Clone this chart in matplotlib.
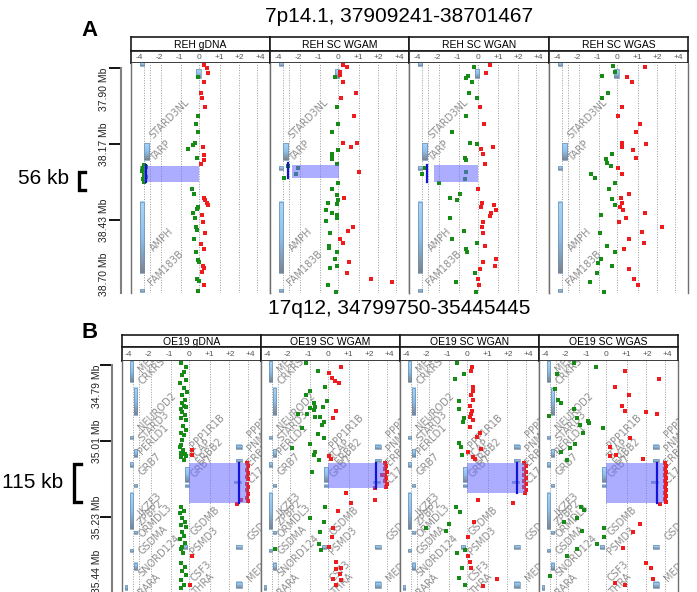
import numpy as np
import matplotlib
matplotlib.use("Agg")
import matplotlib.pyplot as plt
from matplotlib.colors import LinearSegmentedColormap
from matplotlib.lines import Line2D
from matplotlib.patches import Rectangle

plt.rcParams["font.family"] = ["Liberation Sans", "DejaVu Sans"]

# ---------------- data ----------------
TITLE_A = "7p14.1, 37909241-38701467"
TITLE_B = "17q12, 34799750-35445445"
PANELS_A = ["REH gDNA", "REH SC WGAM", "REH SC WGAN", "REH SC WGAS"]
PANELS_B = ["OE19 gDNA", "OE19 SC WGAM", "OE19 SC WGAN", "OE19 SC WGAS"]
RATIO_TICKS = [-3, -2, -1, 0, 1, 2, 3]
RATIO_LABELS = ["-4", "-2", "-1", "0", "+1", "+2", "+4"]
GRID_X = [-2.77, -2.48, -1.9, -0.92, 0.0, 1.0, 1.95, 2.87]

A_TICKS = [37.90, 38.166, 38.432, 38.698]
A_TICK_LABELS = ["37.90 Mb", "38.17 Mb", "38.43 Mb", "38.70 Mb"]
B_TICKS = [34.80, 35.015, 35.23, 35.445]
B_TICK_LABELS = ["34.79 Mb", "35.01 Mb", "35.23 Mb", "35.44 Mb"]

# (x_left, x_right, start Mb, end Mb)
A_TRACKS = [(-2.97, -2.77, 37.880, 37.893), (-0.15, 0.05, 37.904, 37.935),
            (-2.77, -2.52, 38.163, 38.222), (-2.97, -2.77, 38.243, 38.257),
            (-2.97, -2.77, 38.369, 38.618), (-2.97, -2.77, 38.674, 38.684)]
B_TRACKS = [(-2.93, -2.78, 34.788, 34.848), (-2.73, -2.58, 34.865, 34.942),
            (-2.93, -2.78, 35.001, 35.009), (-2.73, -2.58, 35.038, 35.060),
            (-2.93, -2.78, 35.075, 35.089), (-2.73, -2.58, 35.137, 35.145),
            (-2.93, -2.78, 35.162, 35.264), (-2.73, -2.58, 35.270, 35.278),
            (-2.93, -2.78, 35.321, 35.329), (-2.73, -2.58, 35.360, 35.380),
            (-3.15, -3.05, 35.423, 35.437), (-0.21, -0.01, 35.088, 35.130),
            (-0.21, -0.01, 35.139, 35.145), (-0.30, -0.10, 35.309, 35.320),
            (2.30, 2.55, 35.026, 35.038), (2.30, 2.55, 35.066, 35.074),
            (2.20, 2.50, 35.129, 35.133), (2.30, 2.55, 35.309, 35.320),
            (2.30, 2.55, 35.414, 35.431)]

A_GENE_NAMES = ["STARD3NL", "TARP", "AMPH", "FAM183B"]
A_GENE_X = [-2.2, -2.2, -2.2, -2.3]
A_GENE_Y = [38.152, 38.233, 38.548, 38.667]

B_GENE_NAMES = ["MED1", "CRKRS", "NEUROD2", "STARD3", "PERLD1", "GRB7", "IKZF3",
                "ZPBP2", "ORMDL3", "GSDMA", "SNORD124", "RARA",
                "PPP1R1B", "TCAP", "ERBB2", "GRB7", "GSDMB", "PSMD3", "CSF3", "THRA",
                "PPP1R1B", "PNMT", "ERBB2", "C17orf37", "GSDML", "MED24"]
B_GENE_X = [-2.25] * 12 + [0.3, 0.3, 0.6, 0.3, 0.3, 0.3, 0.3, 0.4] + [3.1] * 6
B_GENE_Y = [34.828, 34.862, 34.992, 35.021, 35.058, 35.117, 35.230, 35.261, 35.295,
            35.343, 35.403, 35.457,
            35.041, 35.075, 35.086, 35.125, 35.287, 35.343, 35.417, 35.457,
            35.012, 35.049, 35.089, 35.140, 35.301, 35.417]

# segment box (x0, x1, y0, y1) and segment line (x, y0, y1)
A_SEG = [(-2.77, 0.0, 38.242, 38.300), (-2.33, 0.05, 38.240, 38.286),
         (-2.18, 0.0, 38.240, 38.298), None]
A_SEG_LINE = [(-2.65, 38.240, 38.300), (-2.50, 38.233, 38.286),
              (-2.52, 38.240, 38.298), None]
B_SEG = [(0.0, 2.80, 35.077, 35.190), (0.0, 2.75, 35.077, 35.148),
         (0.0, 2.80, 35.077, 35.162), (0.0, 2.80, 35.077, 35.190)]
B_SEG_LINE = [(2.40, 35.077, 35.190), (2.35, 35.077, 35.148),
              (2.40, 35.077, 35.162), (2.45, 35.077, 35.190)]

# probe points (ratio axis position, Mb)
reh_gdna_red = [(0.20, 37.890), (0.35, 37.900), (0.40, 37.918), (0.20, 37.949), (0.05, 37.988),
                (0.10, 38.005), (0.25, 38.037), (0.15, 38.177), (0.20, 38.204), (0.20, 38.222),
                (0.05, 38.236), (0.20, 38.355), (0.25, 38.362), (0.35, 38.373), (0.40, 38.380),
                (0.10, 38.415), (0.15, 38.439), (0.25, 38.478), (0.05, 38.516), (0.20, 38.534),
                (0.15, 38.593), (0.20, 38.600), (0.10, 38.614), (0.20, 38.660)]
reh_gdna_green = [(-0.05, 37.932), (-0.05, 38.068), (-0.15, 38.096), (-0.05, 38.124),
                  (-0.20, 38.163), (-0.30, 38.170), (-0.55, 38.184), (-0.10, 38.215),
                  (-2.75, 38.240), (-2.65, 38.245), (-2.80, 38.250), (-2.70, 38.256),
                  (-2.85, 38.262), (-2.70, 38.268), (-2.75, 38.274), (-2.65, 38.280),
                  (-2.80, 38.287), (-2.70, 38.294), (-2.75, 38.300),
                  (-0.35, 38.324), (-0.25, 38.341), (-0.05, 38.387), (-0.10, 38.394),
                  (-0.30, 38.408), (-0.20, 38.425), (-0.15, 38.457), (-0.10, 38.467),
                  (-0.25, 38.499), (-0.15, 38.544), (-0.05, 38.572), (-0.02, 38.579),
                  (-0.10, 38.639), (-0.02, 38.646), (-0.05, 38.681)]

reh_wgam_red = [(0.20, 37.890), (0.40, 37.897), (0.05, 37.914), (0.05, 37.925), (0.20, 37.949),
                (0.85, 37.988), (0.10, 38.005), (0.75, 38.068), (0.20, 38.163), (0.60, 38.177),
                (0.90, 38.163), (1.00, 38.264), (0.25, 38.355), (0.70, 38.457), (0.45, 38.471),
                (0.05, 38.499), (0.20, 38.513), (0.50, 38.579), (0.40, 38.618), (1.60, 38.639),
                (2.65, 38.649)]
reh_wgam_green = [(-0.15, 37.932), (-0.05, 38.037), (-0.03, 38.096), (-0.30, 38.124),
                  (-0.03, 38.187), (-0.30, 38.201), (-0.30, 38.212), (-0.30, 38.219),
                  (-0.05, 38.236), (-2.50, 38.243), (-2.00, 38.250), (-2.10, 38.271),
                  (-2.70, 38.285), (-0.03, 38.303), (-0.30, 38.324), (-0.05, 38.345),
                  (-0.03, 38.362), (-0.05, 38.376), (-0.50, 38.373), (-0.60, 38.397),
                  (-0.30, 38.408), (-0.05, 38.415), (-0.05, 38.425), (-0.60, 38.436),
                  (-0.40, 38.478), (-0.45, 38.523), (-0.45, 38.530), (-0.05, 38.544),
                  (-0.15, 38.569), (-0.05, 38.593), (-0.40, 38.600), (-0.50, 38.660),
                  (-0.10, 38.684)]

reh_wgan_red = [(0.60, 37.890), (0.40, 37.918), (0.10, 38.037), (0.30, 38.096), (0.75, 38.177),
                (0.15, 38.184), (0.25, 38.201), (0.35, 38.236), (0.02, 38.324), (0.20, 38.373),
                (0.15, 38.387), (0.80, 38.380), (0.90, 38.397), (0.65, 38.408), (0.60, 38.418),
                (0.25, 38.439), (0.20, 38.457), (0.25, 38.478), (0.35, 38.523), (0.90, 38.569),
                (0.85, 38.593), (0.25, 38.579), (0.10, 38.604), (0.02, 38.639), (0.05, 38.660)]
reh_wgan_green = [(-0.20, 37.897), (-0.50, 37.928), (-0.60, 37.935), (-0.30, 37.949),
                  (-0.45, 37.988), (-0.05, 38.005), (-0.60, 38.068), (-1.30, 38.124),
                  (-0.40, 38.163), (-0.05, 38.166), (-0.65, 38.215), (-0.60, 38.222),
                  (-2.60, 38.250), (-2.75, 38.271), (-0.60, 38.264), (-0.65, 38.289),
                  (-1.90, 38.303), (-0.90, 38.341), (-1.40, 38.355), (-1.05, 38.362),
                  (-1.40, 38.425), (-0.70, 38.471), (-1.30, 38.499), (-0.05, 38.513),
                  (-0.60, 38.534), (-0.55, 38.544), (-0.15, 38.618), (-1.10, 38.649),
                  (-0.10, 38.684)]

reh_wgas_red = [(1.35, 37.897), (0.45, 37.932), (0.70, 37.949), (0.20, 38.037), (0.02, 38.068),
                (1.10, 38.096), (0.90, 38.124), (0.20, 38.163), (0.20, 38.177), (1.40, 38.166),
                (0.75, 38.187), (0.90, 38.215), (0.02, 38.250), (0.20, 38.271), (0.55, 38.341),
                (0.15, 38.355), (0.20, 38.373), (0.10, 38.387), (0.25, 38.397), (0.40, 38.425),
                (1.35, 38.408), (0.05, 38.439), (2.20, 38.457), (1.20, 38.474), (0.55, 38.499),
                (1.30, 38.513), (0.30, 38.534), (0.55, 38.604), (0.80, 38.639), (1.00, 38.660)]
reh_wgas_green = [(-0.20, 37.893), (-0.10, 37.914), (-0.75, 37.928), (-0.45, 37.988),
                  (-0.75, 38.005), (-0.25, 38.201), (-0.55, 38.219), (-0.50, 38.233),
                  (-0.30, 38.243), (-1.30, 38.271), (-1.10, 38.285), (-0.10, 38.303),
                  (-0.40, 38.324), (-0.25, 38.359), (-0.10, 38.380), (-0.80, 38.415),
                  (-0.85, 38.478), (-0.50, 38.523), (-0.10, 38.544), (-0.80, 38.569),
                  (-0.95, 38.583), (-0.25, 38.593), (-1.00, 38.618), (-1.35, 38.649),
                  (-0.65, 38.684)]

oe19_gdna_red = [(0.10, 35.041), (0.10, 35.055), (0.10, 35.341), (0.02, 35.423),
                 (2.80, 35.077), (2.85, 35.085), (2.80, 35.097), (2.85, 35.105),
                 (2.80, 35.116), (2.85, 35.124), (2.80, 35.136), (2.85, 35.144),
                 (2.80, 35.155), (2.85, 35.164), (2.80, 35.175), (2.85, 35.186),
                 (2.50, 35.182), (2.35, 35.193)]
oe19_gdna_green = [(-0.40, 34.794), (-0.15, 34.806), (-0.25, 34.820), (-0.35, 34.828),
                   (-0.15, 34.842), (-0.45, 34.851), (-0.25, 34.865), (-0.10, 34.876),
                   (-0.35, 34.885), (-0.20, 34.899), (-0.35, 34.908), (-0.25, 34.916),
                   (-0.40, 34.925), (-0.15, 34.919), (-0.35, 34.933), (-0.20, 34.942),
                   (-0.40, 34.950), (-0.15, 34.956), (-0.30, 34.973), (-0.15, 34.984),
                   (-0.40, 34.992), (-0.25, 34.998), (-0.35, 35.012), (-0.40, 35.026),
                   (-0.45, 35.032), (-0.30, 35.041), (-0.40, 35.049), (-0.20, 35.052),
                   (-0.15, 35.058), (-0.40, 35.060), (-0.25, 35.069),
                   (-0.40, 35.202), (-0.25, 35.213), (-0.45, 35.219), (-0.35, 35.233),
                   (-0.20, 35.244), (-0.40, 35.253), (-0.15, 35.258), (-0.35, 35.273),
                   (-0.25, 35.284), (-0.45, 35.292), (-0.20, 35.304), (-0.35, 35.315),
                   (-0.40, 35.321), (-0.30, 35.332), (-0.40, 35.360), (-0.20, 35.372),
                   (-0.35, 35.383), (-0.15, 35.394), (-0.40, 35.408), (-0.25, 35.423),
                   (-0.40, 35.431)]

oe19_wgam_red = [(0.60, 34.806), (0.05, 34.823), (0.15, 34.837), (0.30, 34.845), (0.50, 34.851),
                 (0.35, 34.930), (0.20, 34.950), (0.05, 35.058), (0.10, 35.066),
                 (2.75, 35.077), (2.80, 35.085), (2.75, 35.094), (2.85, 35.102), (2.75, 35.111),
                 (2.80, 35.119), (2.75, 35.128), (2.85, 35.136), (2.80, 35.145), (2.60, 35.111),
                 (2.30, 35.148), (2.30, 35.182), (0.85, 35.162), (1.10, 35.191), (0.45, 35.213),
                 (0.20, 35.261), (0.15, 35.287), (0.02, 35.315), (0.35, 35.358), (0.60, 35.374),
                 (0.35, 35.377), (0.55, 35.391), (0.20, 35.406), (0.60, 35.408), (0.35, 35.423)]
oe19_wgam_green = [(-1.10, 34.794), (-0.50, 34.817), (-0.15, 34.862), (-0.90, 34.874),
                   (-1.10, 34.885), (-0.70, 34.908), (-0.65, 34.919), (-0.70, 34.927),
                   (-0.05, 34.902), (-0.25, 34.919), (-0.90, 34.922), (-1.50, 34.939),
                   (-1.05, 34.939), (-0.40, 34.947), (-0.65, 34.947), (-0.20, 34.961),
                   (-0.30, 34.970), (-1.30, 34.978), (-0.50, 34.995), (-0.20, 35.007),
                   (-0.90, 35.024), (-1.80, 35.035), (-0.65, 35.046), (-0.70, 35.055),
                   (-0.45, 35.069), (-0.80, 35.103), (-0.15, 35.202), (-0.90, 35.233),
                   (-0.20, 35.244), (-0.40, 35.273), (-0.45, 35.307), (-0.35, 35.324),
                   (-2.60, 35.321)]

oe19_wgan_red = [(0.20, 34.806), (0.15, 34.817), (0.25, 34.862), (0.25, 34.874), (0.15, 34.885),
                 (0.25, 34.899), (0.10, 34.916), (0.20, 34.930), (0.15, 34.939), (0.10, 34.947),
                 (0.25, 34.956), (0.10, 34.975), (0.60, 34.992), (0.45, 35.004), (0.65, 35.038),
                 (0.02, 35.046), (0.25, 35.060), (0.35, 35.066),
                 (2.75, 35.077), (2.85, 35.085), (2.75, 35.094), (2.85, 35.102), (2.75, 35.111),
                 (2.85, 35.119), (2.75, 35.128), (2.85, 35.136), (2.75, 35.145), (2.85, 35.153),
                 (2.80, 35.162), (2.25, 35.191), (0.50, 35.182), (0.30, 35.244), (0.02, 35.287),
                 (0.05, 35.340), (0.10, 35.358), (0.15, 35.374), (1.45, 35.406), (0.75, 35.425)]
oe19_wgan_green = [(-0.50, 34.794), (-0.15, 34.825), (-0.60, 34.840), (-0.40, 34.902),
                   (-0.40, 34.925), (-0.15, 34.950), (-0.20, 34.961), (-0.40, 35.021),
                   (-0.30, 35.032), (-0.25, 35.055), (-0.55, 35.202), (-0.35, 35.216),
                   (-0.90, 35.250), (-2.05, 35.261), (-1.05, 35.270), (-0.10, 35.324),
                   (-0.50, 35.332), (-0.25, 35.374), (-0.40, 35.403), (-0.10, 35.423)]

oe19_wgas_red = [(0.90, 34.817), (2.55, 34.840), (0.40, 34.862), (1.10, 34.885), (0.75, 34.916),
                 (0.90, 34.930), (1.95, 34.933), (2.45, 34.939), (1.15, 35.007), (0.15, 35.032),
                 (0.15, 35.058), (0.45, 35.055), (1.80, 35.066),
                 (2.85, 35.077), (2.90, 35.086), (2.85, 35.094), (2.90, 35.103), (2.85, 35.111),
                 (2.90, 35.120), (2.85, 35.128), (2.90, 35.137), (2.85, 35.145), (2.90, 35.154),
                 (2.85, 35.162), (2.90, 35.171), (2.85, 35.179), (2.90, 35.188),
                 (2.60, 35.193), (1.65, 35.250), (1.30, 35.273), (0.80, 35.318), (1.95, 35.360),
                 (2.20, 35.374), (2.30, 35.406), (0.40, 35.417), (0.90, 35.423)]
oe19_wgas_green = [(-1.60, 34.794), (-0.50, 34.806), (-2.40, 34.825), (-2.50, 34.868),
                   (-2.35, 34.899), (-2.20, 34.908), (-1.60, 34.925), (-2.80, 34.944),
                   (-1.45, 34.950), (-0.90, 34.958), (-0.85, 34.964), (-1.30, 34.970),
                   (-0.15, 34.978), (-1.15, 34.992), (-1.55, 35.024), (-1.80, 35.035),
                   (-2.20, 35.046), (-1.95, 35.069), (-1.25, 35.202), (-1.10, 35.210),
                   (-1.45, 35.233), (-2.10, 35.244), (-0.10, 35.261), (-1.20, 35.270),
                   (-0.10, 35.287), (-0.45, 35.307), (-1.45, 35.321), (-1.95, 35.340),
                   (-2.75, 35.397)]

A_RED = [reh_gdna_red, reh_wgam_red, reh_wgan_red, reh_wgas_red]
A_GREEN = [reh_gdna_green, reh_wgam_green, reh_wgan_green, reh_wgas_green]
B_RED = [oe19_gdna_red, oe19_wgam_red, oe19_wgan_red, oe19_wgas_red]
B_GREEN = [oe19_gdna_green, oe19_wgam_green, oe19_wgan_green, oe19_wgas_green]

# ---------------- layout / style ----------------
W, H = 697, 592
RED = "#ee1c1c"
GREEN = "#168c16"
TRACK_CMAP = LinearSegmentedColormap.from_list("track", ["#a9d6f7", "#8fc0ea", "#7c838c"])
GRAD = np.linspace(0, 1, 64).reshape(-1, 1)


def fig_rect(x0, y0, x1, y1):
    return [x0 / W, 1 - y1 / H, (x1 - x0) / W, (y1 - y0) / H]


def draw_header(fig, x0, x1, top, mid, bottom, name, xlim):
    nax = fig.add_axes(fig_rect(x0, top, x1, mid))
    nax.set_xticks([])
    nax.set_yticks([])
    nax.text(0.5, 0.45, name, ha="center", va="center", fontsize=7.5)
    tax = fig.add_axes(fig_rect(x0, mid, x1, bottom))
    tax.set_xlim(*xlim)
    tax.set_ylim(0, 1)
    tax.set_xticks([])
    tax.set_yticks([])
    for pos, lab in zip(RATIO_TICKS, RATIO_LABELS):
        tax.text(pos, 0.45, lab, ha="center", va="center", fontsize=6, color="#555555")
    for a in (nax, tax):
        for sp in a.spines.values():
            sp.set_linewidth(1.2)
            sp.set_color("#1a1a1a")


def draw_panel(ax, red, green, tracks, genes, seg, seg_line, xlim, ylim):
    for gx in GRID_X:
        ax.axvline(gx, color="#9a9a9a", lw=0.7, ls=(0, (1, 1.6)), zorder=0.5)
    for x0, x1, s, e in tracks:
        ax.imshow(GRAD, cmap=TRACK_CMAP, extent=(x0, x1, e, s), origin="upper",
                  aspect="auto", interpolation="bilinear", zorder=1)
        ax.add_patch(Rectangle((x0, s), x1 - x0, e - s, fill=False, ec="#6d8fb0",
                               lw=0.5, zorder=1.1))
    for name, gx, gy in genes:
        ax.text(gx, gy, name, rotation=45, rotation_mode="anchor", ha="left", va="bottom",
                fontsize=7, color="#8e8e8e", family="DejaVu Sans", clip_on=True, zorder=1.5)
    r = np.array(red)
    g = np.array(green)
    ax.scatter(g[:, 0], g[:, 1], marker="s", s=12, c=GREEN, lw=0, zorder=2)
    ax.scatter(r[:, 0], r[:, 1], marker="s", s=12, c=RED, lw=0, zorder=2)
    if seg is not None:
        x0, x1, y0, y1 = seg
        ax.add_patch(Rectangle((x0, y0), x1 - x0, y1 - y0, fc=(0.42, 0.42, 1.0),
                               alpha=0.55, lw=0, zorder=3))
    if seg_line is not None:
        ax.plot([seg_line[0], seg_line[0]], [seg_line[1], seg_line[2]],
                color="#1414d8", lw=1.6, zorder=4)
    ax.set_xlim(*xlim)
    ax.set_ylim(*ylim)
    ax.set_xticks([])
    ax.set_yticks([])
    ax.spines["top"].set_visible(False)
    ax.spines["bottom"].set_visible(False)
    for side in ("left", "right"):
        ax.spines[side].set_color("#6f6f6f")
        ax.spines[side].set_linewidth(1.0)


def draw_yaxis(fig, rect, ylim, ticks, labels, label_x):
    yax = fig.add_axes(rect, zorder=-1)
    yax.set_ylim(*ylim)
    yax.patch.set_visible(False)
    for side in ("top", "right", "bottom"):
        yax.spines[side].set_visible(False)
    left = yax.spines["left"]
    left.set_position(("outward", 7.2))
    left.set_color("#808080")
    left.set_linewidth(1.5)
    left.set_bounds(ticks[0], ylim[0])
    yax.set_xticks([])
    yax.set_yticks([t for t in ticks if ylim[1] <= t <= ylim[0]])
    yax.set_yticklabels([])
    yax.tick_params(axis="y", length=8.5, width=1.3, color="black", direction="out")
    for i, (t, lab) in enumerate(zip(ticks, labels)):
        va = "top" if i == 0 else ("bottom" if i == len(ticks) - 1 else "center")
        yax.text(label_x, t, lab, transform=yax.get_yaxis_transform(), rotation=90,
                 ha="center", va=va, fontsize=7.5, color="#222222", clip_on=False)


def draw_section(fig, edges, top, mid, bottom, plot_bottom, names, reds, greens, tracks,
                 genes, segs, seg_lines, xlim, ylim, ticks, tick_labels, label_x):
    for i in range(4):
        x0, x1 = edges[i], edges[i + 1]
        draw_header(fig, x0, x1, top, mid, bottom, names[i], xlim)
        ax = fig.add_axes(fig_rect(x0, bottom, x1, plot_bottom))
        draw_panel(ax, reds[i], greens[i], tracks, genes, segs[i], seg_lines[i], xlim, ylim)
    draw_yaxis(fig, fig_rect(edges[0], bottom, edges[1], plot_bottom), ylim, ticks,
               tick_labels, label_x)


def bracket(fig, x, y0, y1, arm):
    fig.add_artist(Line2D([(x + arm) / W, x / W, x / W, (x + arm) / W],
                          [1 - y0 / H, 1 - y0 / H, 1 - y1 / H, 1 - y1 / H],
                          color="black", lw=2.4, solid_joinstyle="miter"))


fig = plt.figure(figsize=(W / 100, H / 100), dpi=100)

# ---- section A ----
fig.text(399 / W, 1 - 16 / H, TITLE_A, ha="center", va="center", fontsize=15)
fig.text(89 / W, 1 - 31 / H, "A", ha="center", va="center", fontsize=16, fontweight="bold")
fig.text(43 / W, 1 - 179 / H, "56 kb", ha="center", va="center", fontsize=15)
bracket(fig, 79, 172, 190, 6)
genes_a = list(zip(A_GENE_NAMES, A_GENE_X, A_GENE_Y))
draw_section(fig, [131, 270, 409, 549, 688], 37, 51, 63, 293, PANELS_A, A_RED, A_GREEN,
             A_TRACKS, genes_a, A_SEG, A_SEG_LINE, (-3.4, 3.5), (38.6875, 37.8825),
             A_TICKS, A_TICK_LABELS, -0.194)

# ---- section B ----
fig.text(399 / W, 1 - 309 / H, TITLE_B, ha="center", va="center", fontsize=15)
fig.text(90 / W, 1 - 332 / H, "B", ha="center", va="center", fontsize=16, fontweight="bold")
fig.text(33 / W, 1 - 483 / H, "115 kb", ha="center", va="center", fontsize=15)
bracket(fig, 74, 464, 502, 7)
genes_b = list(zip(B_GENE_NAMES, B_GENE_X, B_GENE_Y))
draw_section(fig, [122, 261, 400, 539, 678], 335, 347, 361, 592, PANELS_B, B_RED, B_GREEN,
             B_TRACKS, genes_b, B_SEG, B_SEG_LINE, (-3.3, 3.5), (35.4424, 34.7887),
             B_TICKS, B_TICK_LABELS, -0.18)

fig.savefig("out.png", dpi=100)
plt.close(fig)
